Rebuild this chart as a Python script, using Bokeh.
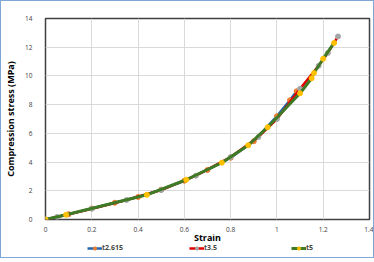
from bokeh.plotting import figure
from bokeh.models import Legend, LegendItem, FixedTicker, Label
from bokeh.layouts import column
from bokeh.embed import file_html
from bokeh.resources import INLINE

# t2.615 (blue line, orange markers)
x1 = [0, 0.1, 0.2, 0.3, 0.4, 0.5, 0.6, 0.7, 0.8, 0.9, 1.0, 1.056, 1.085]
y1 = [0, 0.37, 0.77, 1.17, 1.57, 2.08, 2.7, 3.45, 4.3, 5.45, 7.2, 8.3, 8.93]
# t3.5 (red line, gray markers)
x2 = [0, 0.05, 0.2, 0.35, 0.5, 0.65, 0.8, 0.92, 1.0, 1.1, 1.18, 1.22, 1.264]
y2 = [0, 0.17, 0.75, 1.36, 2.05, 3.05, 4.35, 5.75, 7.0, 9.1, 10.7, 11.6, 12.75]
# t5 (green line, yellow markers)
x3 = [0, 0.089, 0.438, 0.608, 0.762, 0.876, 0.96, 1.10, 1.15, 1.16, 1.20, 1.247]
y3 = [0, 0.33, 1.72, 2.77, 3.96, 5.17, 6.43, 8.79, 9.84, 10.2, 11.2, 12.3]

x_ticks = [0, 0.2, 0.4, 0.6, 0.8, 1, 1.2, 1.4]
x_tick_labels = ["0", "0.2", "0.4", "0.6", "0.8", "1", "1.2", "1.4"]
y_ticks = [0, 2, 4, 6, 8, 10, 12, 14]
series_names = ["t2.615", "t3.5", "t5"]
series_styles = [("#2466ad", "#ed7d31", 2.5), ("#e00000", "#a5a5a5", 2.5), ("#3f7a24", "#ffc000", 3)]

p = figure(frame_width=324, frame_height=201, output_backend="svg", toolbar_location=None,
           x_range=(0, 1.4), y_range=(0, 14),
           min_border_left=43, min_border_right=4, min_border_top=17, min_border_bottom=12)

p.xaxis.ticker = FixedTicker(ticks=x_ticks)
p.xaxis.major_label_overrides = {t: l for t, l in zip(x_ticks, x_tick_labels)}
p.yaxis.ticker = FixedTicker(ticks=y_ticks)

for ax in (p.xaxis[0], p.yaxis[0]):
    ax.axis_line_color = None
    ax.major_tick_line_color = None
    ax.minor_tick_line_color = None
    ax.major_label_text_font = "Open Sans"
    ax.major_label_text_font_size = "6.5px"
    ax.major_label_text_color = "#404040"
    ax.axis_label_text_font = "Open Sans"
    ax.axis_label_text_font_style = "bold"
    ax.axis_label_text_font_size = "9px"
    ax.axis_label_text_color = "#000000"

p.xaxis.major_label_standoff = 1
p.yaxis.major_label_standoff = 7
p.yaxis.axis_label_standoff = 5
p.yaxis.axis_label = "Compression stress (MPa)"

p.xgrid.grid_line_color = "#d9d9d9"
p.ygrid.grid_line_color = "#d9d9d9"
p.outline_line_color = "#404040"
p.outline_line_width = 1.5

for xs, ys, (lc, mc, lw) in zip([x1, x2, x3], [y1, y2, y3], series_styles):
    p.line(xs, ys, line_color=lc, line_width=lw)
    p.scatter(xs, ys, marker="circle", size=5, fill_color=mc, line_color=mc)

# lower strip: x-axis title and legend (series drawn out of view, only for legend glyphs)
p2 = figure(frame_width=324, frame_height=23, output_backend="svg", toolbar_location=None,
            x_range=(0, 1.4), y_range=(100, 123),
            x_axis_location=None, y_axis_location=None,
            min_border_left=43, min_border_right=4, min_border_top=0, min_border_bottom=0)
p2.outline_line_color = None
p2.grid.visible = False

p2.add_layout(Label(x=0.7, y=120, text="Strain", text_align="center", text_baseline="middle",
                    text_font="Open Sans", text_font_style="bold", text_font_size="9px",
                    text_color="#000000"))

items = []
for name, xs, ys, (lc, mc, lw) in zip(series_names, [x1, x2, x3], [y1, y2, y3], series_styles):
    lr = p2.line(xs, ys, line_color=lc, line_width=lw)
    mr = p2.scatter(xs, ys, marker="circle", size=5, fill_color=mc, line_color=mc)
    items.append(LegendItem(label=name, renderers=[lr, mr]))

legend = Legend(items=items, orientation="horizontal", location=(42, 5))
legend.label_text_font = "Open Sans"
legend.label_text_font_style = "bold"
legend.label_text_font_size = "7px"
legend.glyph_width = 15
legend.glyph_height = 8
legend.label_height = 8
legend.label_standoff = 0
legend.label_width = 40
legend.spacing = 47
legend.padding = 0
legend.margin = 0
legend.border_line_color = None
legend.background_fill_alpha = 0
p2.add_layout(legend)

layout = column(p, p2, spacing=0, styles={"border": "1px solid #7fa7d6"})

open("out.html", "w").write(file_html(layout, INLINE))
